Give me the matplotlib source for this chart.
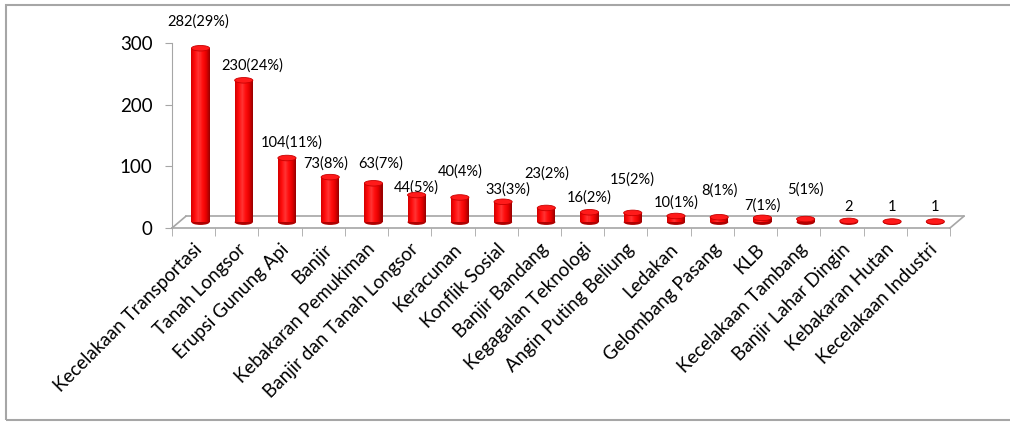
import matplotlib
matplotlib.use('Agg')
import matplotlib.pyplot as plt
from matplotlib.patches import Ellipse, Rectangle
import numpy as np

categories = ['Kecelakaan Transportasi', 'Tanah Longsor', 'Erupsi Gunung Api', 'Banjir',
              'Kebakaran Pemukiman', 'Banjir dan Tanah Longsor', 'Keracunan', 'Konflik Sosial',
              'Banjir Bandang', 'Kegagalan Teknologi', 'Angin Puting Beliung', 'Ledakan',
              'Gelombang Pasang', 'KLB', 'Kecelakaan Tambang', 'Banjir Lahar Dingin',
              'Kebakaran Hutan', 'Kecelakaan Industri']
counts = [282, 230, 104, 73, 63, 44, 40, 33, 23, 16, 15, 10, 8, 7, 5, 2, 1, 1]
value_labels = ['282(29%)', '230(24%)', '104(11%)', '73(8%)', '63(7%)', '44(5%)', '40(4%)',
                '33(3%)', '23(2%)', '16(2%)', '15(2%)', '10(1%)', '8(1%)', '7(1%)', '5(1%)',
                '2', '1', '1']

# where each label sits relative to its bar (hand placed, like the original)
label_dx = [-0.05, 0.2, 0.1, -0.1, 0.16, 0, 0, 0.1, 0, 0, 0, 0, 0, 0, 0, 0, 0, 0]
label_dy = [52, 33, 34, 32, 41, 22, 51, 30, 66, 34, 63, 32, 52, 30, 58, 32, 33, 33]

plt.rcParams['font.family'] = ['Lato', 'DejaVu Sans']

fig = plt.figure(figsize=(10.10, 4.24), dpi=100)
fig.patches.append(Rectangle((6 / 1010, 1 - 420 / 424), 1.1, (420 - 5) / 424,
                             transform=fig.transFigure, fill=False, ec='#a6a6a6', lw=1.5))

ax = fig.add_axes([172 / 1010, 1 - 228 / 424, (950 - 172) / 1010, (228 - 43) / 424])
ax.set_xlim(-0.5, 17.5)
ax.set_ylim(0, 300)
for s in ['top', 'right', 'bottom']:
    ax.spines[s].set_visible(False)
ax.spines['left'].set_color('#a6a6a6')
ax.set_yticks([0, 100, 200, 300])
ax.tick_params(axis='y', labelsize=13.5, color='#a6a6a6', length=5, pad=9)

x = np.arange(len(categories))
ddx, ddy = 0.32, 19.0  # depth of the fake 3d floor
gc = '#a6a6a6'
ax.plot([-0.5, 17.5], [0, 0], color=gc, lw=1.2, clip_on=False)
ax.plot([-0.5 + ddx, 17.5 + ddx], [ddy, ddy], color=gc, lw=1.2, clip_on=False)
ax.plot([-0.5, -0.5 + ddx], [0, ddy], color=gc, lw=1.2, clip_on=False)
ax.plot([17.5, 17.5 + ddx], [0, ddy], color=gc, lw=1.2, clip_on=False)
ax.set_xticks(x)
ax.set_xticks(np.arange(-0.5, 18, 1), minor=True)
ax.tick_params(axis='x', which='major', length=0, pad=9)
ax.tick_params(axis='x', which='minor', length=6, color=gc)
ax.set_xticklabels(categories, rotation=45, ha='right', va='top', rotation_mode='anchor', fontsize=13.5)
for t in ax.get_xticklabels():
    t.set_x(t.get_position()[0] + 0.2)

# cylinders
bw = 0.42
n = 18
shade = [(0.85, 0.0, 0.0), (1.0, 0.05, 0.05), (1.0, 0.2, 0.2), (1.0, 0.05, 0.05),
         (0.9, 0.0, 0.0), (0.62, 0.0, 0.0)]
cmap = matplotlib.colors.LinearSegmentedColormap.from_list('cyl', shade)
cx = x + ddx / 2
base = ddy / 2
ell_h = 9
for i in range(n):
    off = -bw / 2 + (i + 0.5) * bw / n
    ax.bar(cx + off, counts, width=bw / n * 1.05, bottom=base, color=cmap(i / (n - 1)), lw=0, zorder=3)
for xi, v in zip(cx, counts):
    ax.add_patch(Ellipse((xi, base), bw, ell_h, color='#b00000', lw=0, zorder=2.9))
    ax.add_patch(Ellipse((xi, base + v), bw, ell_h, fc='#ff1a1a', ec='#c80000', lw=0.6, zorder=4))

for xi, v, lab, dx, dy in zip(cx, counts, value_labels, label_dx, label_dy):
    ax.text(xi + dx, v + dy, lab, ha='center', va='center', fontsize=10.5, clip_on=False)

fig.savefig('out.png', dpi=100)
